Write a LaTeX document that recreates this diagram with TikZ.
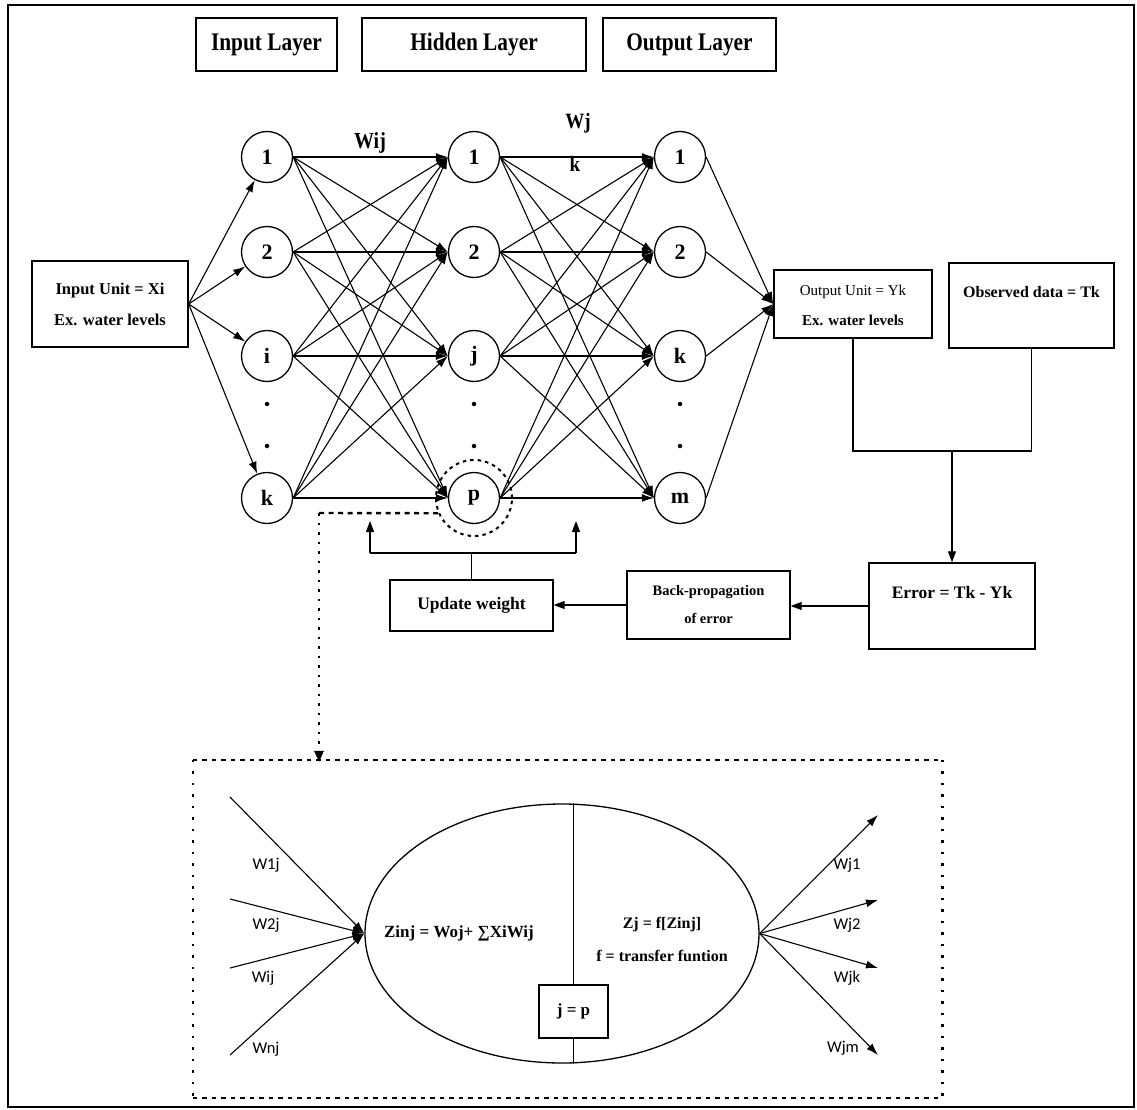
\documentclass[tikz,border=0pt]{standalone}
\usepackage{fontspec}
\setmainfont{Liberation Serif}
\newfontfamily\calib{Carlito}
\usetikzlibrary{arrows.meta,shapes.geometric}
\begin{document}
\begin{tikzpicture}[x=1pt,y=-1pt,
  boxed/.style={draw, line width=1.4pt, inner sep=0pt},
  neuron/.style={draw, circle, line width=1.3pt, minimum size=51pt, inner sep=0pt, font=\fontsize{22}{22}\selectfont\bfseries},
  dotmark/.style={circle, fill, inner sep=0pt, minimum size=4.5pt},
  wire/.style={line width=1.1pt, -{Latex[length=12pt,width=8pt]}},
  link/.style={line width=1.3pt},
  fbarrow/.style={line width=1.3pt, -{Triangle[length=11pt,width=8pt]}},
  txt/.style={inner sep=0pt, font=\fontsize{#1}{#1}\selectfont\bfseries},
  rtxt/.style={inner sep=0pt, font=\fontsize{#1}{#1}\selectfont},
  sanslbl/.style={inner sep=0pt, font=\calib\fontsize{16.5}{16.5}\selectfont},
  dashline/.style={line width=2.4pt, dash pattern=on 5pt off 4.5pt},
  dotline/.style={line width=2.6pt, dash pattern=on 2.5pt off 7pt},
]
\useasboundingbox (0,0) rectangle (1137,1110);
\fill[white] (0,0) rectangle (1137,1110);
% outer frame
\draw[line width=2pt] (8,5) rectangle (1134,1107);

% headers
\node[boxed, minimum width=141pt, minimum height=53pt, txt=22] (hdrin) at (266.5,44.5) {\scalebox{0.97}[1.15]{Input Layer}};
\node[boxed, minimum width=224pt, minimum height=53pt, txt=22] (hdrhid) at (474,44.5) {\scalebox{0.97}[1.15]{Hidden Layer}};
\node[boxed, minimum width=173pt, minimum height=53pt, txt=22] (hdrout) at (689.5,44.5) {\scalebox{0.97}[1.15]{Output Layer}};

% neurons
\node[neuron] (i1) at (267,157) {1};
\node[neuron] (i2) at (267,252) {2};
\node[neuron] (ii) at (267,356) {i};
\node[neuron] (ik) at (267,498) {k};
\node[neuron] (h1) at (474,157) {1};
\node[neuron] (h2) at (474,252) {2};
\node[neuron] (hj) at (474,356) {j};
\node[neuron] (hp) at (474,498) {p};
\node[neuron] (o1) at (680,157) {1};
\node[neuron] (o2) at (680,252) {2};
\node[neuron] (ok) at (680,356) {k};
\node[neuron] (om) at (680,498) {m};

\node[dotmark] (di1) at (267,404) {};
\node[dotmark] (di2) at (267,446) {};
\node[dotmark] (dh1) at (474,404) {};
\node[dotmark] (dh2) at (474,446) {};
\node[dotmark] (do1) at (680,404) {};
\node[dotmark] (do2) at (680,446) {};

% weight labels
\node[txt=20] (wij) at (370,143) {\scalebox{1}[1.15]{Wij}};
\node[txt=19] (wjk1) at (578,123) {\scalebox{1}[1.15]{Wj}};
\node[txt=19] (wjk2) at (575,164) {\scalebox{1}[1.15]{k}};

% input / output boxes
\node[boxed, minimum width=156pt, minimum height=86pt, align=center, font=\fontsize{16.5}{31}\selectfont\bfseries] (inbox) at (110,304) {Input Unit = Xi\\Ex. water levels};
\node[boxed, minimum width=158pt, minimum height=68pt] (outbox) at (853,304) {};
\node[rtxt=15] (outt1) at (853,292) {Output Unit = Yk};
\node[txt=15] (outt2) at (853,320) {Ex. water levels};
\node[boxed, minimum width=165pt, minimum height=85pt] (obsbox) at (1031.5,305.5) {};
\node[txt=16] (obst) at (1031.5,292) {Observed data = Tk};

% connections
\foreach \b in {i1,i2,ii,ik} \draw[wire] (inbox.east) -- (\b);
\foreach \a in {i1,i2,ii,ik} \foreach \b in {h1,h2,hj,hp} \draw[wire] (\a.east) -- (\b.west);
\foreach \a in {h1,h2,hj,hp} \foreach \b in {o1,o2,ok,om} \draw[wire] (\a.east) -- (\b.west);
\foreach \a in {o1,o2,ok,om} \draw[wire] (\a.east) -- (outbox.west);

% error path
\node[boxed, minimum width=166pt, minimum height=86pt] (errbox) at (952,606) {};
\node[txt=17.5] (errt) at (952,593) {Error = Tk - Yk};
\node[boxed, minimum width=163pt, minimum height=68pt, align=center, font=\fontsize{14.5}{28}\selectfont\bfseries] (bpbox) at (708.5,605) {Back-propagation\\of error};
\node[boxed, minimum width=163pt, minimum height=51pt, txt=17.5] (updbox) at (471.5,605.5) {Update weight};

\coordinate (bm) at (952,451);
\draw[link] (outbox.south) -- (outbox.south |- bm) -- (obsbox.south |- bm) -- (obsbox.south);
\draw[fbarrow] (bm) -- (errbox.north);
\draw[fbarrow] (errbox.west) -- (errbox.west -| bpbox.east);
\draw[fbarrow] (bpbox.west) -- (bpbox.west -| updbox.east);

\coordinate (ubl) at (370,553);
\coordinate (ubr) at (576,553);
\coordinate (utl) at (370,521);
\coordinate (utr) at (576,521);
\draw[link] (updbox.north) -- (updbox.north |- ubl);
\draw[link] (ubl) -- (ubr);
\draw[fbarrow] (ubl) -- (utl);
\draw[fbarrow] (ubr) -- (utr);

% dotted highlight of p
\node[circle, minimum size=76pt, inner sep=0pt, draw, line width=2pt, dash pattern=on 3.5pt off 4pt] (pring) at (hp) {};
\coordinate (dl) at (319,513);

% zoom box
\node[minimum width=749pt, minimum height=338pt, inner sep=0pt] (zbox) at (567.5,929) {};
\draw[dashline] (pring.203) -- (dl);
\draw[dotline] (dl) -- (dl |- zbox.north) ;
\fill (dl |- zbox.north) ++(0,2) -- ++(-5,-11) -- ++(10,0) -- cycle;
\draw[dashline, dash pattern=on 4.5pt off 5pt] (zbox.north west) -- (zbox.north east);
\draw[dashline, dash pattern=on 4.5pt off 5pt] (zbox.south west) -- (zbox.south east);
\draw[dotline, dash pattern=on 2.5pt off 9pt] (zbox.north west) -- (zbox.south west);
\draw[dotline, dash pattern=on 2.5pt off 9pt] (zbox.north east) -- (zbox.south east);

% neuron detail
\node[draw, ellipse, line width=1.3pt, minimum width=394pt, minimum height=259pt, inner sep=0pt] (cell) at (562,933.5) {};
\node[boxed, line width=1.2pt, minimum width=69pt, minimum height=53pt, txt=17] (jpbox) at (573.5,1011.5) {j = p};
\draw[link] (jpbox.north) -- (jpbox.north |- cell.north);
\draw[link] (jpbox.south) -- (jpbox.south |- cell.south);
\node[txt=17] (zinj) at (459,933) {Zinj = Woj+ ∑XiWij};
\node[txt=16] (zj) at (662,925) {Zj = f[Zinj]};
\node[txt=16] (ftr) at (662,956) {f = transfer funtion};

\coordinate (a1) at (230,797);
\coordinate (a2) at (230,899);
\coordinate (a3) at (230,968);
\coordinate (a4) at (230,1055);
\foreach \a in {a1,a2,a3,a4} \draw[wire] (\a) -- (cell.west);
\coordinate (b1) at (878,815);
\coordinate (b2) at (878,900);
\coordinate (b3) at (878,968);
\coordinate (b4) at (878,1055);
\foreach \b in {b1,b2,b3,b4} \draw[wire] (cell.east) -- (\b);

\node[sanslbl] (lw1) at (266,865) {W1j};
\node[sanslbl] (lw2) at (266,925) {W2j};
\node[sanslbl] (lw3) at (263,978) {Wij};
\node[sanslbl] (lw4) at (266,1049) {Wnj};
\node[sanslbl] (rw1) at (847,865) {Wj1};
\node[sanslbl] (rw2) at (847,925) {Wj2};
\node[sanslbl] (rw3) at (847,978) {Wjk};
\node[sanslbl] (rw4) at (843,1048) {Wjm};
\end{tikzpicture}
\end{document}
